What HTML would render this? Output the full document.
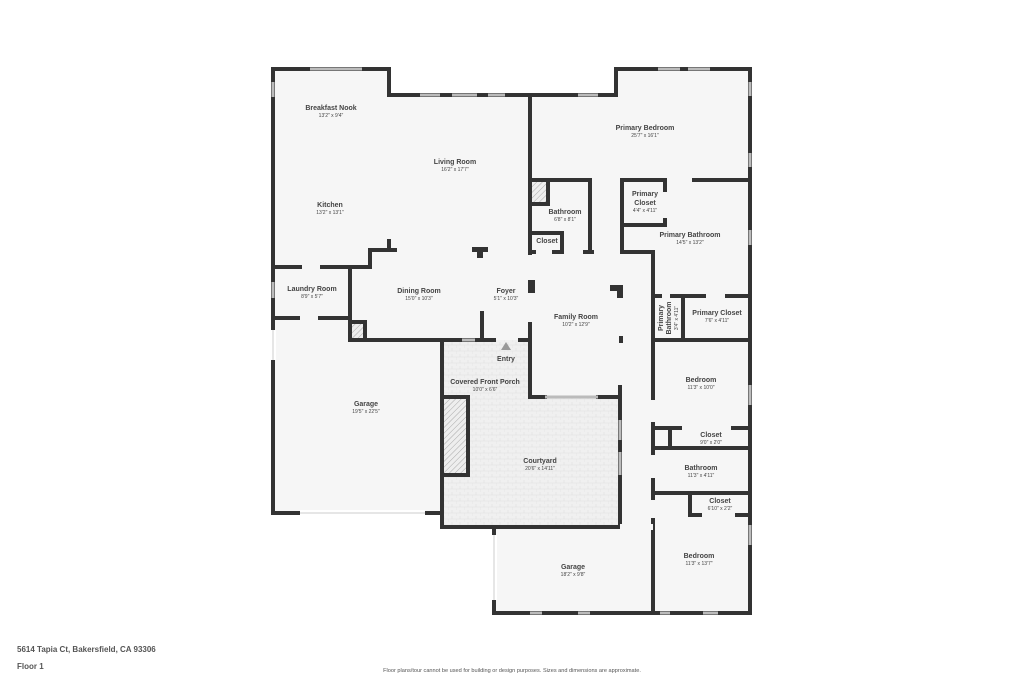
<!DOCTYPE html>
<html><head><meta charset="utf-8"><style>
html,body{margin:0;padding:0;background:#fff;width:1024px;height:683px;overflow:hidden}
svg{display:block}
text{font-family:"Liberation Sans",sans-serif;fill:#444;text-anchor:middle}
.n{font-size:7px;font-weight:bold}
.d{font-size:5px}
</style></head><body>
<svg width="1024" height="683" viewBox="0 0 1024 683">
<defs>
<pattern id="h" width="4" height="4" patternUnits="userSpaceOnUse" patternTransform="rotate(45)"><rect width="4" height="4" fill="#eee"/><line x1="0" y1="0" x2="0" y2="4" stroke="#aaa" stroke-width="1"/></pattern>
<pattern id="b" width="8" height="6" patternUnits="userSpaceOnUse"><rect width="8" height="6" fill="#f0f0f0"/><path d="M0 3H8M4 0V3M0 3V6" stroke="#e0e0e0" stroke-width="0.6" fill="none"/></pattern>
</defs>
<path d="M273 69H389V95H616V69H750V613H494V527H442V513H273Z" fill="#f6f6f6"/>
<rect x="442" y="340" width="88" height="57" fill="url(#b)"/>
<rect x="442" y="397" width="178" height="130" fill="url(#b)"/>
<rect x="442" y="397" width="26" height="78" fill="url(#h)"/>
<rect x="530" y="180" width="18" height="24" fill="url(#h)"/>
<rect x="350" y="322" width="15" height="18" fill="url(#h)"/>
<g stroke="#333" stroke-width="4" fill="none" stroke-linecap="square">
<path d="M273 69H389V95H530"/>
<path d="M530 95H616V69H750V613H494V527"/>
<path d="M273 69V513H442V527H620"/>
<path d="M442 340V527"/>
<path d="M273 267H300M322 267H370V250H395M389 241V250"/>
<path d="M273 318H298M320 318H350"/>
<path d="M350 267V340H462M475 340H494M520 340H530"/>
<path d="M482 313V340"/>
<rect x="350" y="322" width="15" height="18"/>
<path d="M530 95V255"/>
<path d="M530 180H590V252M530 233H562V252"/>
<path d="M530 252H534M554 252H562M585 252H592"/>
<path d="M622 180V252H653V613"/>
<path d="M622 180H665V190M665 220V225H622"/>
<path d="M694 180H750"/>
<path d="M653 296H660M672 296H704M727 296H750"/>
<path d="M683 296V340"/>
<path d="M653 340H750"/>
<path d="M653 428H680M733 428H750M670 428V448M653 448H750"/>
<path d="M653 493H750M690 493V515H700M737 515H750"/>
<path d="M530 323V397H545M598 397H620M620 387V527"/>
<path d="M442 340H494"/>
<rect x="442" y="397" width="26" height="78"/>
<rect x="530" y="180" width="18" height="24"/>
</g>
<g stroke="#f6f6f6" stroke-width="6">
<line x1="653" y1="400" x2="653" y2="422"/>
<line x1="653" y1="455" x2="653" y2="478"/>
<line x1="653" y1="500" x2="653" y2="518"/>
<line x1="530" y1="255" x2="530" y2="322"/>
<line x1="620" y1="527" x2="653" y2="527"/>
</g>
<g stroke="#fff" stroke-width="6">
<line x1="273" y1="330" x2="273" y2="360"/>
<line x1="300" y1="513" x2="425" y2="513"/>
<line x1="494" y1="535" x2="494" y2="600"/>
</g>
<g stroke="#ddd" stroke-width="1.5">
<line x1="273" y1="330" x2="273" y2="360"/>
<line x1="300" y1="513" x2="425" y2="513"/>
<line x1="494" y1="535" x2="494" y2="600"/>
</g>
<g stroke="#bbb" stroke-width="3">
<line x1="310" y1="69" x2="362" y2="69"/>
<line x1="420" y1="95" x2="440" y2="95"/><line x1="452" y1="95" x2="477" y2="95"/><line x1="488" y1="95" x2="505" y2="95"/>
<line x1="578" y1="95" x2="598" y2="95"/>
<line x1="658" y1="69" x2="680" y2="69"/><line x1="688" y1="69" x2="710" y2="69"/>
<line x1="273" y1="82" x2="273" y2="97"/><line x1="273" y1="282" x2="273" y2="298"/>
<line x1="750" y1="82" x2="750" y2="96"/><line x1="750" y1="153" x2="750" y2="167"/><line x1="750" y1="230" x2="750" y2="245"/>
<line x1="750" y1="385" x2="750" y2="405"/><line x1="750" y1="525" x2="750" y2="545"/>
<line x1="545" y1="397" x2="598" y2="397"/><line x1="462" y1="340" x2="475" y2="340"/>
<line x1="620" y1="420" x2="620" y2="440"/><line x1="620" y1="452" x2="620" y2="475"/>
<line x1="530" y1="613" x2="542" y2="613"/><line x1="578" y1="613" x2="590" y2="613"/>
<line x1="660" y1="613" x2="670" y2="613"/><line x1="703" y1="613" x2="718" y2="613"/>
</g>
<g fill="#333">
<path d="M472 247h16v5h-5v6h-6v-6h-5z"/>
<rect x="528" y="280" width="7" height="13"/>
<path d="M610 285h13v13h-6v-7h-7z"/>
<rect x="619" y="336" width="4" height="7"/>
</g>
<polygon points="506,342 501,350 511,350" fill="#999"/>
<text class="n" x="331" y="110">Breakfast Nook</text><text class="d" x="331" y="117">13'2" x 9'4"</text>
<text class="n" x="455" y="164">Living Room</text><text class="d" x="455" y="171">16'2" x 17'7"</text>
<text class="n" x="330" y="207">Kitchen</text><text class="d" x="330" y="214">13'2" x 13'1"</text>
<text class="n" x="312" y="291">Laundry Room</text><text class="d" x="312" y="298">8'9" x 5'7"</text>
<text class="n" x="419" y="293">Dining Room</text><text class="d" x="419" y="300">15'0" x 10'3"</text>
<text class="n" x="506" y="293">Foyer</text><text class="d" x="506" y="300">5'1" x 10'3"</text>
<text class="n" x="576" y="319">Family Room</text><text class="d" x="576" y="326">10'2" x 12'9"</text>
<text class="n" x="506" y="361">Entry</text>
<text class="n" x="485" y="384">Covered Front Porch</text><text class="d" x="485" y="391">10'0" x 6'6"</text>
<text class="n" x="366" y="406">Garage</text><text class="d" x="366" y="413">19'5" x 22'5"</text>
<text class="n" x="540" y="463">Courtyard</text><text class="d" x="540" y="470">20'6" x 14'11"</text>
<text class="n" x="573" y="569">Garage</text><text class="d" x="573" y="576">18'2" x 9'8"</text>
<text class="n" x="645" y="130">Primary Bedroom</text><text class="d" x="645" y="137">25'7" x 16'1"</text>
<text class="n" x="565" y="214">Bathroom</text><text class="d" x="565" y="221">6'8" x 8'1"</text>
<text class="n" x="547" y="243">Closet</text>
<text class="n" x="645" y="196">Primary</text><text class="n" x="645" y="205">Closet</text><text class="d" x="645" y="212">4'4" x 4'11"</text>
<text class="n" x="690" y="237">Primary Bathroom</text><text class="d" x="690" y="244">14'5" x 13'2"</text>
<text class="n" x="717" y="315">Primary Closet</text><text class="d" x="717" y="322">7'6" x 4'11"</text>
<g transform="translate(663,318) rotate(-90)"><text class="n" x="0" y="0">Primary</text><text class="n" x="0" y="8">Bathroom</text><text class="d" x="0" y="15">3'4" x 4'11"</text></g>
<text class="n" x="701" y="382">Bedroom</text><text class="d" x="701" y="389">11'3" x 10'0"</text>
<text class="n" x="711" y="437">Closet</text><text class="d" x="711" y="444">9'0" x 2'0"</text>
<text class="n" x="701" y="470">Bathroom</text><text class="d" x="701" y="477">11'3" x 4'11"</text>
<text class="n" x="720" y="503">Closet</text><text class="d" x="720" y="510">6'10" x 2'2"</text>
<text class="n" x="699" y="558">Bedroom</text><text class="d" x="699" y="565">11'3" x 13'7"</text>
<text x="17" y="652" style="font-size:8px;text-anchor:start;font-weight:bold;fill:#555">5614 Tapia Ct, Bakersfield, CA 93306</text>
<text x="17" y="669" style="font-size:8px;text-anchor:start;font-weight:bold;fill:#555">Floor 1</text>
<text x="512" y="672" style="font-size:5.6px;fill:#555">Floor plans/tour cannot be used for building or design purposes. Sizes and dimensions are approximate.</text>
</svg>
</body></html>
